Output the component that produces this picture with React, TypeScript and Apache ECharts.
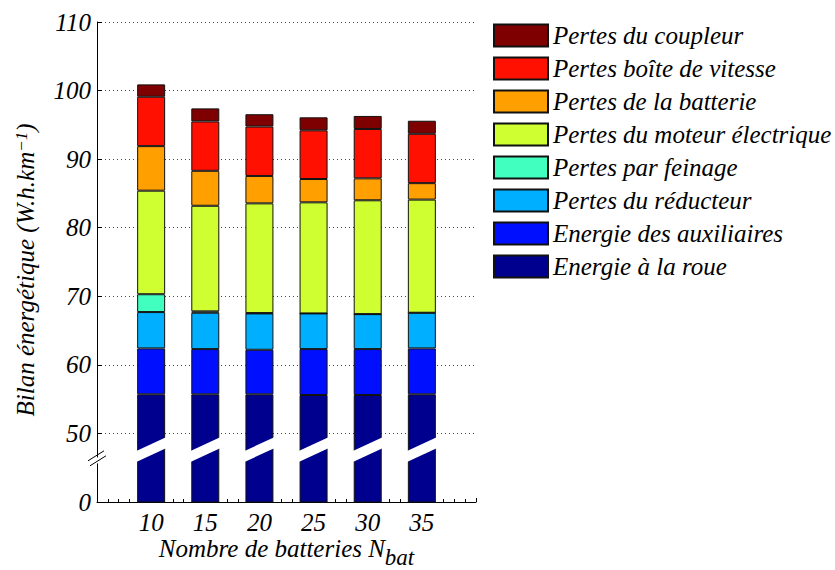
import React, { useEffect, useRef } from "react";
import * as echarts from "echarts";

// Number of batteries (x positions)
const batteries = [10, 15, 20, 25, 30, 35];

// Series names (bottom to top of the stack)
const seriesNames = [
  "Energie à la roue",
  "Energie des auxiliaires",
  "Pertes du réducteur",
  "Pertes par feinage",
  "Pertes du moteur électrique",
  "Pertes de la batterie",
  "Pertes boîte de vitesse",
  "Pertes du coupleur",
];

// Values (W.h/km), one per battery count
const roue = [55.7, 55.7, 55.7, 55.6, 55.6, 55.7];
const auxiliaires = [6.7, 6.6, 6.5, 6.7, 6.7, 6.7];
const reducteur = [5.3, 5.3, 5.3, 5.2, 5.1, 5.2];
const feinage = [2.6, 0.2, 0.05, 0, 0, 0];
const moteur = [15.1, 15.4, 16.0, 16.2, 16.6, 16.5];
const batterie = [6.5, 5.1, 4.0, 3.4, 3.2, 2.4];
const boite = [7.2, 7.2, 7.2, 7.1, 7.2, 7.2];
const coupleur = [1.8, 1.9, 1.8, 1.9, 1.9, 1.9];

const seriesValues = [roue, auxiliaires, reducteur, feinage, moteur, batterie, boite, coupleur];

const colors = ["#00008F", "#0010FF", "#00AFFF", "#40FFBF", "#CFFF30", "#FF9F00", "#FF1000", "#7F0000"];

// Axis settings
const yMin = 40; // bottom of the broken axis, labelled "0"
const yMax = 110;
const yInterval = 10;
const xMin = 5;
const xMax = 40;
const xInterval = 5;

// Axis break (value range where the bars are cut)
const breakLow = 46.7;
const breakHigh = 48.6;
const breakMarkValue = 46.3;

const xTitle = "Nombre de batteries N{sub|bat}";
const yTitle = "Bilan énergétique (W.h.km{sup|−1})";

const FONT = "Liberation Serif";
const FS = 25;

export default function App() {
  const ref = useRef<HTMLDivElement>(null);

  useEffect(() => {
    if (!ref.current) return;
    const chart = echarts.init(ref.current, undefined, { renderer: "svg" });
    const barWidth = 28;

    // Hidden category axis covering xMin..xMax in steps of xInterval (bars are stacked on it)
    const slots: string[] = [];
    for (let v = xMin; v <= xMax; v += xInterval) slots.push(String(v));

    const option: any = {
      animation: false,
      backgroundColor: "#fff",
      textStyle: { fontFamily: FONT },
      grid: { left: 97, top: 22, width: 379, height: 480, outerBoundsMode: "none" },
      legend: {
        orient: "vertical",
        left: 493,
        top: 23,
        padding: 0,
        itemWidth: 54,
        itemHeight: 22,
        itemGap: 8,
        icon: "rect",
        data: seriesNames.slice().reverse(),
        textStyle: { fontFamily: FONT, fontStyle: "italic", fontSize: FS, color: "#000" },
      },
      xAxis: [
        {
          type: "value",
          min: xMin,
          max: xMax,
          interval: xInterval,
          axisLine: { show: true, onZero: false, lineStyle: { color: "#000", width: 1 } },
          axisTick: { show: true, inside: true, length: 4, lineStyle: { color: "#000" } },
          minorTick: { show: true, splitNumber: 5, length: 3, lineStyle: { color: "#000" } },
          splitLine: { show: false },
          axisLabel: {
            margin: 8,
            fontFamily: FONT,
            fontStyle: "italic",
            fontSize: FS,
            color: "#000",
            formatter: (v: number) => (v === xMin || v === xMax ? "" : String(v)),
          },
        },
        {
          type: "category",
          data: slots,
          boundaryGap: false,
          show: false,
        },
      ],
      yAxis: {
        type: "value",
        min: yMin,
        max: yMax,
        interval: yInterval,
        name: yTitle,
        nameLocation: "middle",
        nameGap: 45,
        nameTextStyle: {
          fontFamily: FONT,
          fontStyle: "italic",
          fontSize: FS,
          color: "#000",
          padding: [0, 16, 0, 0],
          rich: {
            sup: { fontFamily: FONT, fontStyle: "italic", fontSize: 17, color: "#000", lineHeight: 17, verticalAlign: "top", padding: [0, 0, 20, 0] },
          },
        },
        axisLine: { show: true, onZero: false, lineStyle: { color: "#000", width: 1 } },
        axisTick: { show: true, inside: true, length: 5, lineStyle: { color: "#000" } },
        splitLine: { show: true, lineStyle: { color: "#444", type: [1, 3], width: 1 } },
        axisLabel: {
          margin: 6,
          fontFamily: FONT,
          fontStyle: "italic",
          fontSize: FS,
          color: "#000",
          formatter: (v: number) => (v === yMin ? "0" : String(v)),
        },
      },
      series: seriesNames.map((name, i) => ({
        name,
        type: "bar",
        stack: "total",
        xAxisIndex: 1,
        yAxisIndex: 0,
        barWidth,
        data: slots.map((s) => {
          const j = batteries.indexOf(Number(s));
          return j >= 0 ? seriesValues[i][j] : "-";
        }),
        itemStyle: { color: colors[i], borderColor: "#111", borderWidth: 1 },
      })),
    };
    chart.setOption(option);

    // Decorations computed from the chart's own scales
    const toPx = (x: number, y: number) =>
      chart.convertToPixel({ xAxisIndex: 0, yAxisIndex: 0 }, [x, y]) as number[];
    const graphics: any[] = [];
    const half = barWidth / 2;
    const ext = 3;
    const t = 5.5;
    batteries.forEach((b) => {
      const cx = toPx(b, yMin)[0];
      const yl = toPx(b, breakLow)[1];
      const yr = toPx(b, breakHigh)[1];
      const slope = (yr - yl) / (2 * half);
      const xl = cx - half - ext;
      const xr = cx + half + ext;
      const yl2 = yl - slope * ext;
      const yr2 = yr + slope * ext;
      graphics.push({
        type: "polygon",
        z: 100,
        silent: true,
        shape: { points: [[xl, yl2 - t], [xr, yr2 - t], [xr, yr2 + t], [xl, yl2 + t]] },
        style: { fill: "#fff" },
      });
    });
    const ax = toPx(xMin, yMin)[0];
    const ym = toPx(xMin, breakMarkValue)[1];
    graphics.push({
      type: "polygon",
      z: 100,
      silent: true,
      shape: { points: [[ax - 3, ym + 1], [ax + 3, ym - 3], [ax + 3, ym + 3], [ax - 3, ym + 7]] },
      style: { fill: "#fff" },
    });
    graphics.push({
      type: "line",
      z: 101,
      silent: true,
      shape: { x1: ax - 9, y1: ym + 2, x2: ax + 7, y2: ym - 8 },
      style: { stroke: "#000", lineWidth: 1 },
    });
    graphics.push({
      type: "line",
      z: 101,
      silent: true,
      shape: { x1: ax - 7, y1: ym + 7, x2: ax + 9, y2: ym - 3 },
      style: { stroke: "#000", lineWidth: 1 },
    });
    // X-axis title, centred under the axis
    const bottom = toPx(xMin, yMin);
    const midX = toPx((xMin + xMax) / 2, yMin)[0];
    graphics.push({
      type: "text",
      z: 101,
      silent: true,
      x: midX,
      y: bottom[1] + 46,
      style: {
        text: xTitle,
        fontFamily: FONT,
        fontStyle: "italic",
        fontSize: FS,
        fill: "#000",
        align: "center",
        verticalAlign: "middle",
        rich: {
          sub: { fontFamily: FONT, fontStyle: "italic", fontSize: 23, fill: "#000", verticalAlign: "bottom", padding: [18, 0, 0, 0] },
        },
      },
    });
    chart.setOption({ graphic: graphics });

    return () => chart.dispose();
  }, []);

  return (
    <div
      ref={ref}
      style={{ position: "fixed", left: 0, top: 0, width: 835, height: 570, background: "#fff" }}
    />
  );
}
